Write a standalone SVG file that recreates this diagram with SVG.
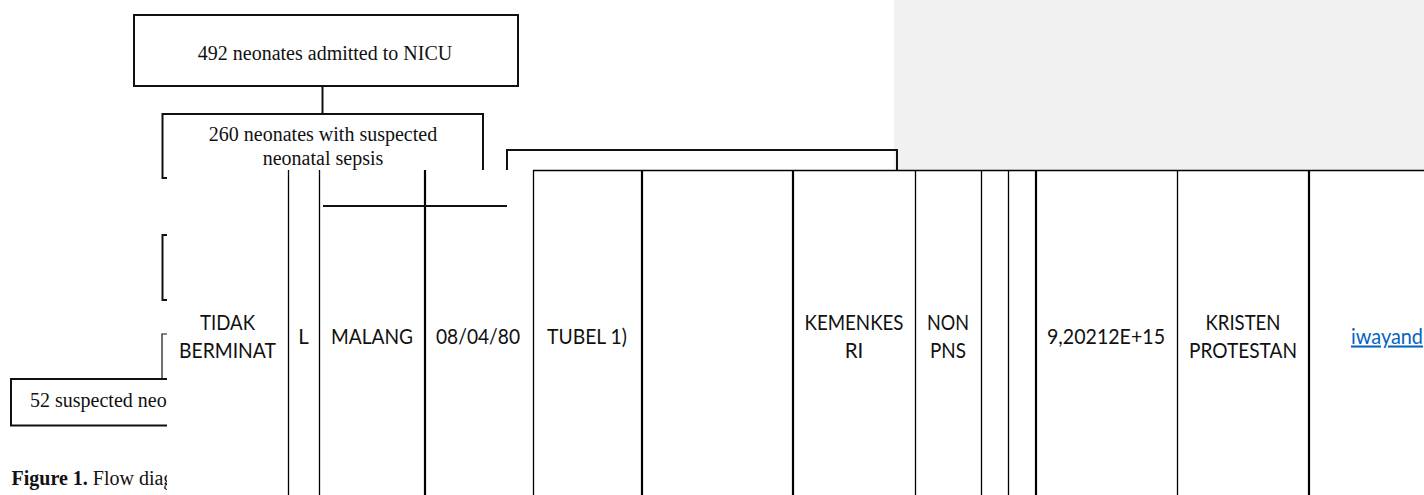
<svg xmlns="http://www.w3.org/2000/svg" width="1424" height="495" viewBox="0 0 1424 495">
<style>
.box{fill:none;stroke:#111;stroke-width:2}
.ln{fill:none;stroke:#111;stroke-width:2}
.thin{fill:none;stroke:#111;stroke-width:1.2}
.tl{stroke:#000;stroke-width:1.3}
.tk{stroke:#000;stroke-width:2.2}
.ser{font-family:"Liberation Serif","Times New Roman",serif;font-size:20px;fill:#111}
.cal{font-family:Lato,"Open Sans",sans-serif;font-size:20.5px;fill:#111;text-anchor:middle}
.link{font-family:Lato,"Open Sans",sans-serif;font-size:20.5px;fill:#0563c1;text-decoration:underline}
</style>
<rect x="0" y="0" width="1424" height="495" fill="#fff"/>
<rect id="grey-panel" x="894" y="0" width="530" height="170" fill="#f1f1f1"/>

<g id="n1">
<rect class="box" x="134" y="15" width="384" height="71"/>
<text class="ser" x="325" y="59.5" text-anchor="middle">492 neonates admitted to NICU</text>
</g>
<g id="n2">
<path class="box" d="M167,178 H162.5 V114 H483 V172"/>
<text class="ser" x="323" y="140.5" text-anchor="middle">260 neonates with suspected</text>
<text class="ser" x="323" y="165" text-anchor="middle">neonatal sepsis</text>
</g>
<g id="n3">
<path class="box" d="M507,172 V150 H897 V172"/>
</g>
<g id="n4">
<path class="box" d="M167,235 H162.5 V300 H167"/>
</g>
<g id="n5">
<path class="box" d="M167,379 H11 V425.5 H167"/>
<text class="ser" x="30" y="407">52 suspected neonatal sepsis</text>
</g>
<g id="connectors">
<line class="ln" x1="322.5" y1="86" x2="322.5" y2="114"/>
<path class="thin" d="M167,334 H162 V379"/>
</g>
<g id="caption">
<text class="ser" x="11.5" y="485"><tspan font-weight="bold">Figure 1.</tspan> Flow diagram</text>
</g>

<g id="table">
<rect x="167" y="170" width="1257" height="325" fill="#fff"/>
<line class="tl" x1="533" y1="170.5" x2="1424" y2="170.5"/>
<line class="tl" x1="288.5" y1="170" x2="288.5" y2="495"/>
<line class="tl" x1="319.5" y1="170" x2="319.5" y2="495"/>
<line class="tk" x1="425" y1="170" x2="425" y2="495"/>
<line class="tl" x1="533.5" y1="170" x2="533.5" y2="495"/>
<line class="tk" x1="642" y1="170" x2="642" y2="495"/>
<line class="tk" x1="793" y1="170" x2="793" y2="495"/>
<line class="tl" x1="915.5" y1="170" x2="915.5" y2="495"/>
<line class="tl" x1="981.5" y1="170" x2="981.5" y2="495"/>
<line class="tl" x1="1008.5" y1="170" x2="1008.5" y2="495"/>
<line class="tk" x1="1036" y1="170" x2="1036" y2="495"/>
<line class="tl" x1="1177.5" y1="170" x2="1177.5" y2="495"/>
<line class="tk" x1="1309" y1="170" x2="1309" y2="495"/>
<text class="cal" x="227.5" y="330" textLength="55" lengthAdjust="spacingAndGlyphs">TIDAK</text>
<text class="cal" x="227.5" y="357.5" textLength="97" lengthAdjust="spacingAndGlyphs">BERMINAT</text>
<text class="cal" x="303.5" y="343.5">L</text>
<text class="cal" x="372" y="343.5" textLength="82" lengthAdjust="spacingAndGlyphs">MALANG</text>
<text class="cal" x="478" y="343.5" textLength="84" lengthAdjust="spacingAndGlyphs">08/04/80</text>
<text class="cal" x="587" y="343.5" textLength="80" lengthAdjust="spacingAndGlyphs">TUBEL 1)</text>
<text class="cal" x="854" y="330" textLength="99" lengthAdjust="spacingAndGlyphs">KEMENKES</text>
<text class="cal" x="854" y="357.5">RI</text>
<text class="cal" x="948" y="330" textLength="42" lengthAdjust="spacingAndGlyphs">NON</text>
<text class="cal" x="948" y="357.5" textLength="36" lengthAdjust="spacingAndGlyphs">PNS</text>
<text class="cal" x="1106" y="343.5" textLength="118" lengthAdjust="spacingAndGlyphs">9,20212E+15</text>
<text class="cal" x="1243" y="330" textLength="75" lengthAdjust="spacingAndGlyphs">KRISTEN</text>
<text class="cal" x="1243" y="357.5" textLength="108" lengthAdjust="spacingAndGlyphs">PROTESTAN</text>
<text class="link" x="1351" y="343.5" textLength="72" lengthAdjust="spacingAndGlyphs">iwayand</text>
</g>
<g id="connectors-over">
<line class="ln" x1="323" y1="206" x2="507" y2="206"/>
</g>
</svg>
